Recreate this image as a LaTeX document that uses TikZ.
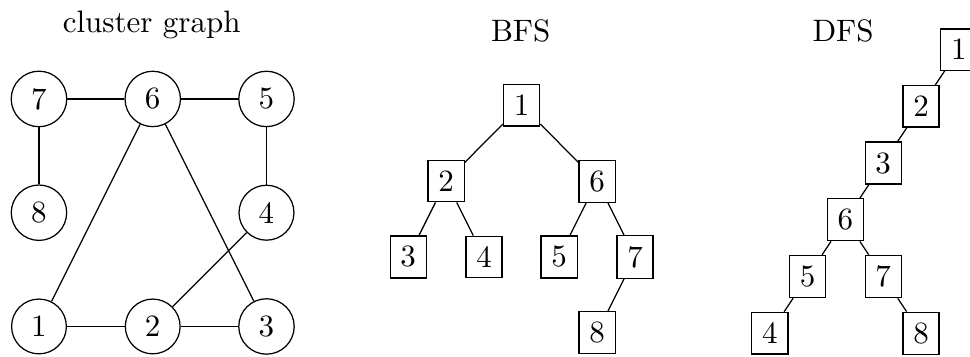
\documentclass[tikz,border=0pt]{standalone}
\usepackage{tikz}
\usetikzlibrary{positioning}

\begin{document}
\begin{tikzpicture}[
      on grid,
      vertex/.style={
        circle,
        draw,
        minimum size=0.615cm,
      },
      treenode/.style={
        rectangle,
        draw,
      },
      title/.style={
        anchor=base,
      }
    ]
      % fix the picture frame
      \useasboundingbox (0,0) rectangle (11.0,-4.048);

      % cluster graph
      \begin{scope}[node distance=1.29cm]
        \node[vertex] (g7) at (0.442,-1.122) {7};
        \node[vertex, right=of g7] (g6) {6};
        \node[vertex, right=of g6] (g5) {5};
        \node[vertex, below=of g7] (g8) {8};
        \node[vertex, below=of g5] (g4) {4};
        \node[vertex, below=of g8] (g1) {1};
        \node[vertex, right=of g1] (g2) {2};
        \node[vertex, right=of g2] (g3) {3};
      \end{scope}
      \node[title] (tcluster) at (1.72,-0.374) {cluster graph};

      \draw (g7) -- (g6) -- (g5);
      \draw (g7) -- (g8);
      \draw (g5) -- (g4);
      \draw (g6) -- (g1);
      \draw (g6) -- (g3);
      \draw (g4) -- (g2);
      \draw (g1) -- (g2) -- (g3);

      % BFS tree
      \node[treenode] (b1) at (5.915,-1.194) {1};
      \node[treenode, below left=0.86cm and 0.856cm of b1] (b2) {2};
      \node[treenode, below right=0.86cm and 0.856cm of b1] (b6) {6};
      \node[treenode, below left=0.86cm and 0.43cm of b2] (b3) {3};
      \node[treenode, below right=0.86cm and 0.43cm of b2] (b4) {4};
      \node[treenode, below left=0.86cm and 0.43cm of b6] (b5) {5};
      \node[treenode, below right=0.86cm and 0.43cm of b6] (b7) {7};
      \node[treenode, below left=0.86cm and 0.43cm of b7] (b8) {8};
      \node[title] (tbfs) at (5.905,-0.470) {BFS};

      \draw (b1) -- (b2);
      \draw (b1) -- (b6);
      \draw (b2) -- (b3);
      \draw (b2) -- (b4);
      \draw (b6) -- (b5);
      \draw (b6) -- (b7);
      \draw (b7) -- (b8);

      % DFS tree
      \begin{scope}[node distance=0.643cm and 0.4286cm]
        \node[treenode] (d1) at (10.873,-0.563) {1};
        \node[treenode, below left=of d1] (d2) {2};
        \node[treenode, below left=of d2] (d3) {3};
        \node[treenode, below left=of d3] (d6) {6};
        \node[treenode, below left=of d6] (d5) {5};
        \node[treenode, below right=of d6] (d7) {7};
        \node[treenode, below left=of d5] (d4) {4};
        \node[treenode, below right=of d7] (d8) {8};
      \end{scope}
      \node[title] (tdfs) at (9.561,-0.470) {DFS};

      \draw (d1) -- (d2) -- (d3) -- (d6);
      \draw (d6) -- (d5) -- (d4);
      \draw (d6) -- (d7) -- (d8);
    \end{tikzpicture}
\end{document}
